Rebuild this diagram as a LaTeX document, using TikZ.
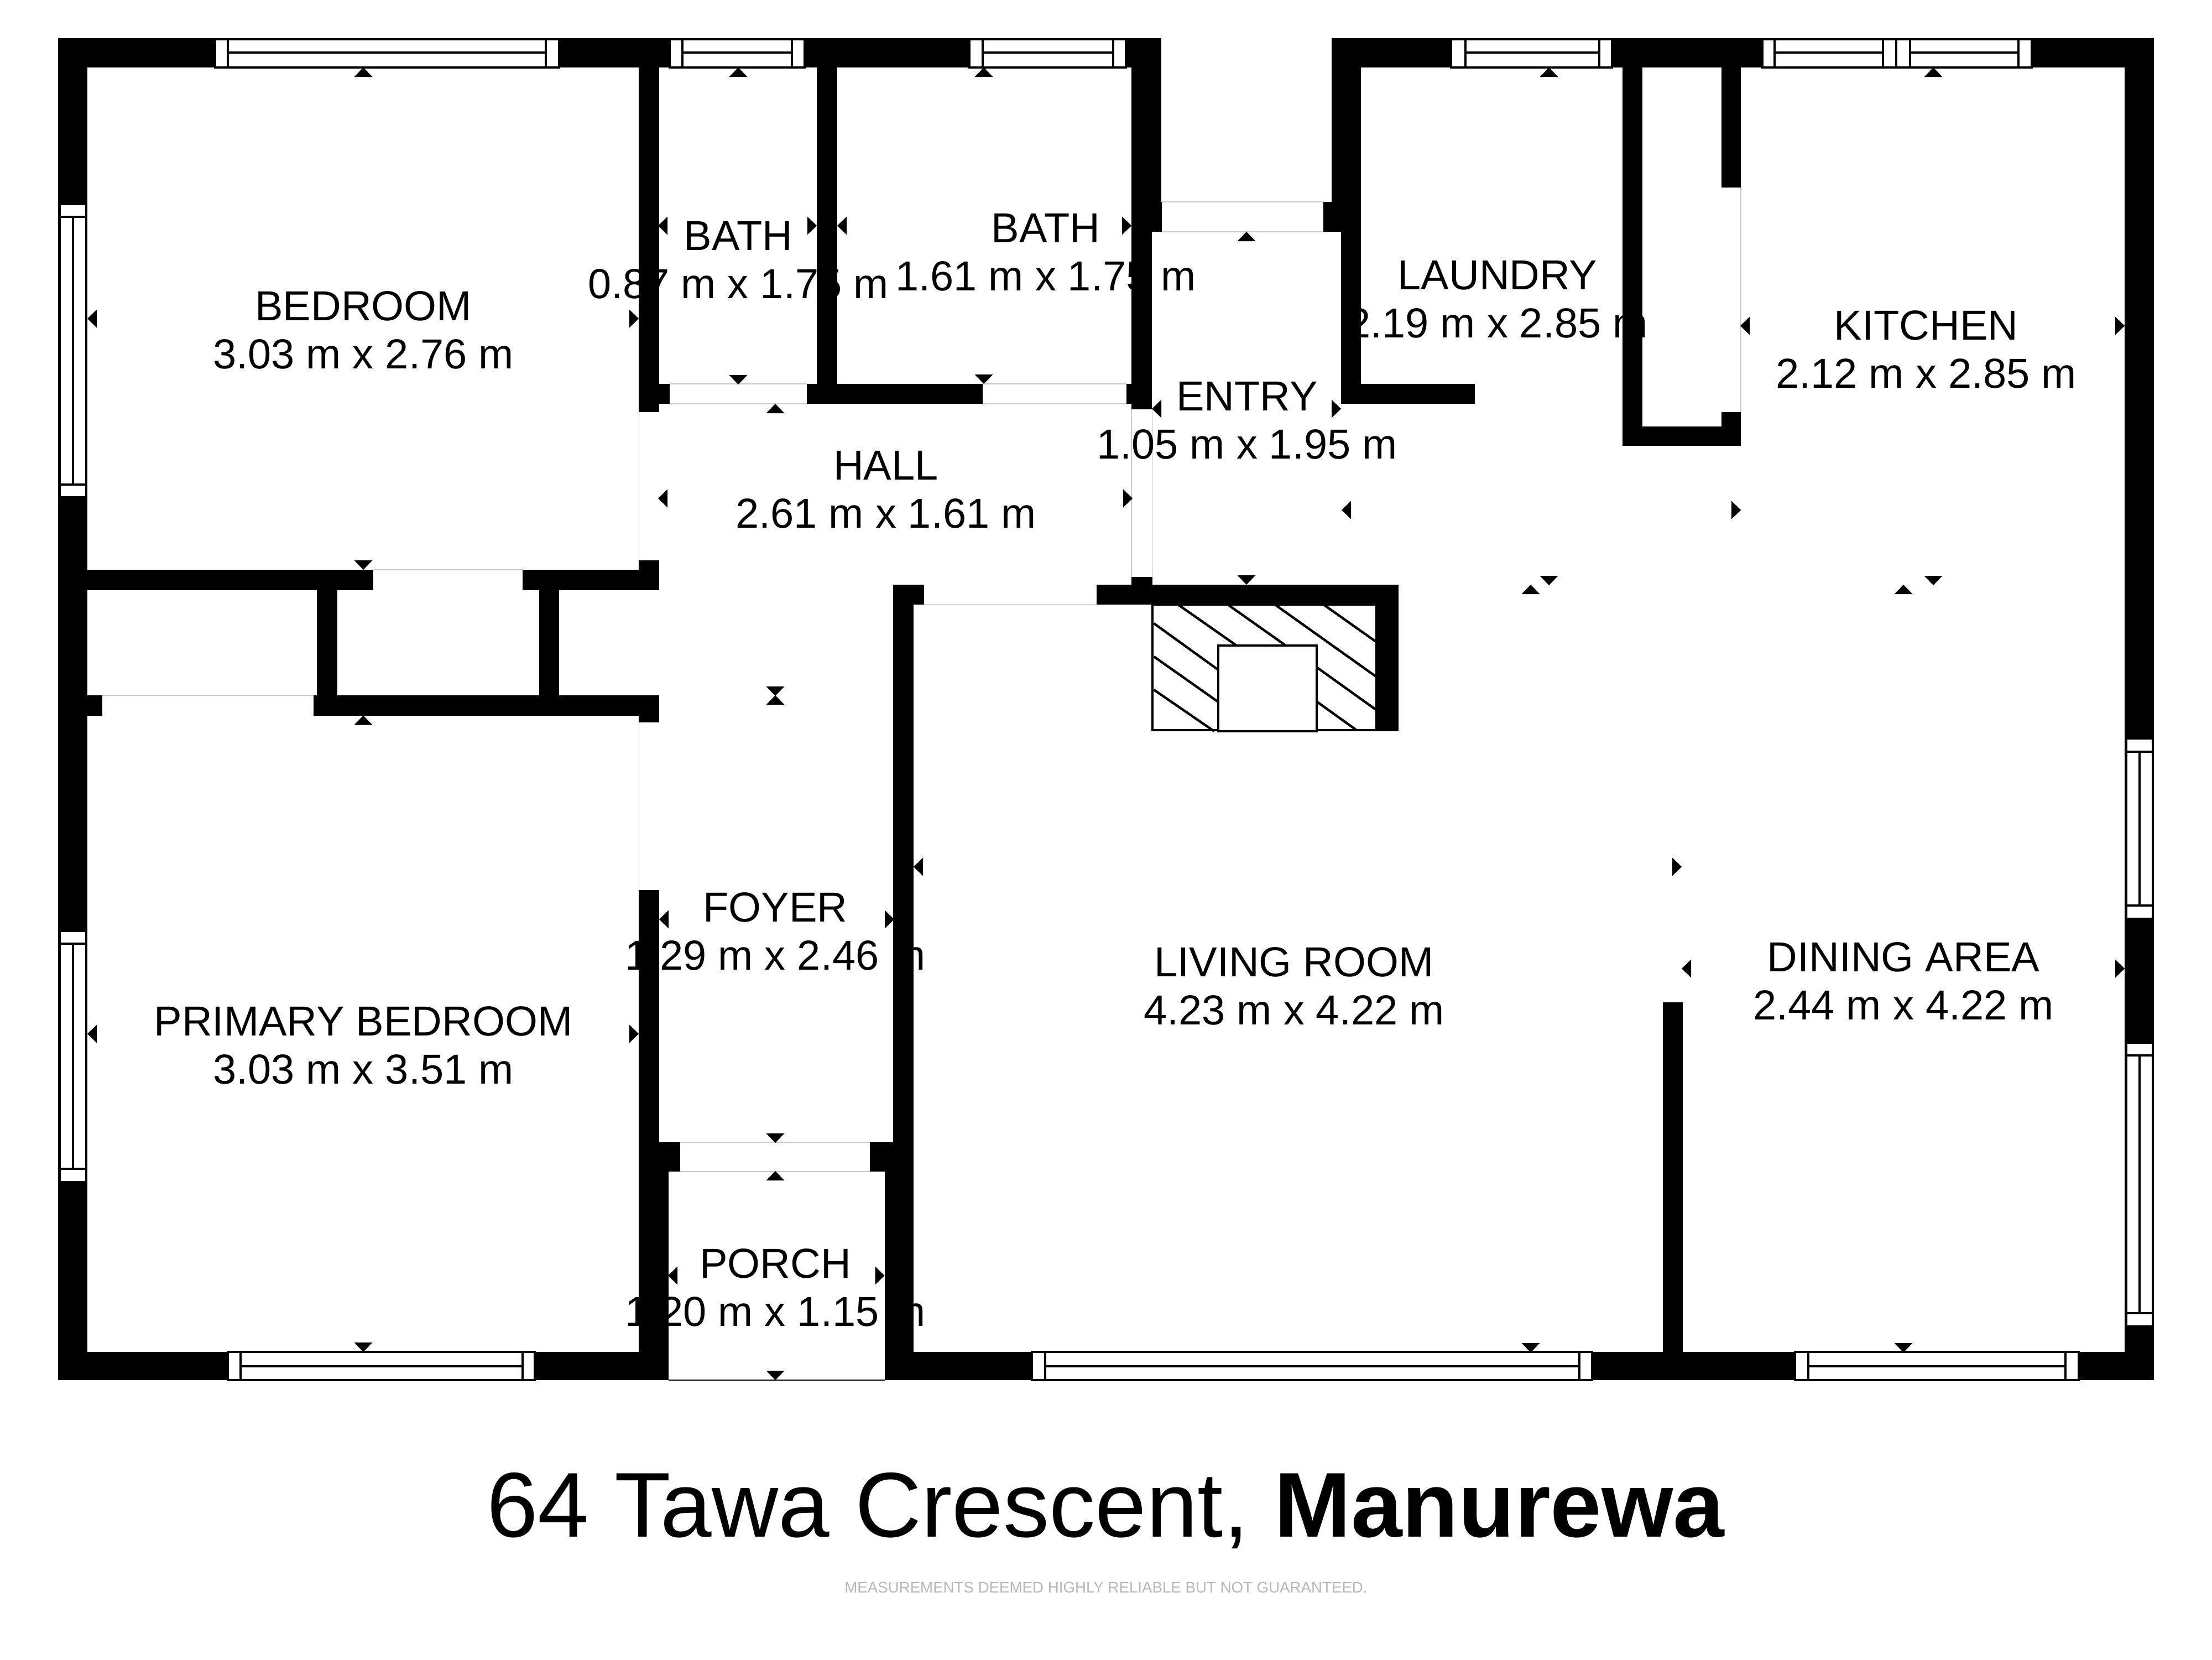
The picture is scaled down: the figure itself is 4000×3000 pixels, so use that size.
\documentclass[tikz,border=0pt]{standalone}
\usepackage{fontspec}
\setmainfont{Liberation Sans}
\usetikzlibrary{calc}
\definecolor{edge}{HTML}{C8C8C8}
\definecolor{edgelight}{HTML}{E2E2E2}
\tikzset{
  x=0.25pt,y=-0.25pt,
  wall/.style={fill=black,draw=none},
  gap/.style={draw=edge,line width=0.3pt},
  pane/.style={draw=black,fill=white,line width=1pt},
  sash/.style={draw=black,line width=1pt},
  hatchline/.style={draw=black,line width=1.1pt},
  room/.style={align=center,font=\fontsize{18.95}{21.75}\selectfont,inner sep=0pt,text=black},
  tip/.style={fill=black,draw=none}
}
\newcommand{\hwin}[7]{\fill[white] (#1,#5) rectangle (#2,#6);
  \draw[pane] (#1,#5) rectangle (#2,#6);
  \draw[sash] (#3,#5) -- (#3,#6) (#4,#5) -- (#4,#6) (#3,#7) -- (#4,#7);}
\newcommand{\vwin}[7]{\fill[white] (#5,#1) rectangle (#6,#2);
  \draw[pane] (#5,#1) rectangle (#6,#2);
  \draw[sash] (#5,#3) -- (#6,#3) (#5,#4) -- (#6,#4) (#7,#3) -- (#7,#4);}
\newcommand{\tu}[2]{\fill[tip] (#1,#2) -- ++(-16.5,17) -- ++(33,0) -- cycle;}
\newcommand{\td}[2]{\fill[tip] (#1,#2) -- ++(-16.5,-17) -- ++(33,0) -- cycle;}
\newcommand{\tl}[2]{\fill[tip] (#1,#2) -- ++(17,-16.5) -- ++(0,33) -- cycle;}
\newcommand{\tr}[2]{\fill[tip] (#1,#2) -- ++(-17,-16.5) -- ++(0,33) -- cycle;}
\begin{document}
\begin{tikzpicture}
\useasboundingbox (0,0) rectangle (4000,3000);
\fill[white] (0,0) rectangle (4000,3000);
% outer walls
\fill[wall] (105,69) rectangle (2100,122);
\fill[wall] (2408,69) rectangle (3895,122);
\fill[wall] (105,69) rectangle (158,2495);
\fill[wall] (3842,69) rectangle (3895,2495);
\fill[wall] (105,2444) rectangle (1209,2495);
\fill[wall] (1600,2444) rectangle (3895,2495);
% bedroom / bath walls
\fill[wall] (1155,69) rectangle (1192,745);
\fill[wall] (1155,694) rectangle (1211,730);
\fill[wall] (1477,69) rectangle (1514,730);
\fill[wall] (1459,694) rectangle (1777,730);
\fill[wall] (2037,694) rectangle (2083,730);
\fill[wall] (2046,69) rectangle (2083,740);
\fill[wall] (2046,69) rectangle (2100,365);
\fill[wall] (2046,365) rectangle (2101,419);
% entry / laundry
\fill[wall] (2408,69) rectangle (2461,365);
\fill[wall] (2393,365) rectangle (2461,419);
\fill[wall] (2425,419) rectangle (2461,730);
\fill[wall] (2425,694) rectangle (2667,730);
% cupboard
\fill[wall] (2934,69) rectangle (2970,806);
\fill[wall] (2934,771) rectangle (3148,806);
\fill[wall] (3112.5,69) rectangle (3148,339);
\fill[wall] (3112.5,745) rectangle (3148,806);
% bedroom closets
\fill[wall] (105,1030) rectangle (674.5,1067);
\fill[wall] (945,1030) rectangle (1192,1067);
\fill[wall] (1155,1013) rectangle (1192,1067);
\fill[wall] (573,1030) rectangle (610,1293.5);
\fill[wall] (975,1030) rectangle (1011,1293.5);
\fill[wall] (567,1257) rectangle (1192,1293.5);
\fill[wall] (1155,1257) rectangle (1192,1306);
\fill[wall] (105,1257) rectangle (185,1293.5);
% foyer / porch
\fill[wall] (1155,1609) rectangle (1192,2495);
\fill[wall] (1155,2065) rectangle (1230,2118);
\fill[wall] (1155,2118) rectangle (1209,2495);
\fill[wall] (1573,2065) rectangle (1652,2118);
\fill[wall] (1599.5,2118) rectangle (1652,2495);
\fill[wall] (1615,1057) rectangle (1652,2118);
\fill[wall] (1615,1057) rectangle (1671,1092.5);
% fireplace wall
\fill[wall] (1983,1057) rectangle (2529,1092.5);
\fill[wall] (2046,1043) rectangle (2084,1057);
\fill[wall] (2489.5,1057) rectangle (2529,1322);
% dining stub
\fill[wall] (3006.5,1812) rectangle (3043,2495);
% openings: thin edge lines
\draw[gap] (1211,694) -- (1459,694) (1211,730) -- (1459,730);
\draw[gap] (1777,694) -- (2037,694) (1777,730) -- (2037,730);
\draw[gap] (2101,365) -- (2393,365) (2101,419) -- (2393,419);
\draw[gap] (1155.5,745) -- (1155.5,1013);
\draw[gap] (1155.5,1306) -- (1155.5,1609);
\draw[gap] (674.5,1030) -- (945,1030);
\draw[gap] (185,1257) -- (567,1257);
\draw[gap] (1230,2065) -- (1573,2065) (1230,2118) -- (1573,2118);
\draw[gap] (1671,1092.5) -- (1983,1092.5);
\draw[gap] (2046,740) -- (2046,1043);
\draw[gap,draw=edgelight] (2084,740) -- (2084,1043);
\draw[gap] (3148,339) -- (3148,745);
% porch threshold
\draw[black,line width=0.6pt] (1209,2495) -- (1600,2495);
% windows
\hwin{388.5}{1011}{412}{987}{71}{122}{95}
\hwin{1211}{1455}{1234}{1432}{71}{122}{95}
\hwin{1753}{2036}{1777}{2013}{71}{122}{95}
\hwin{2624}{2915}{2650}{2892}{71}{122}{95}
\hwin{3186.5}{3429}{3209}{3405}{71}{122}{95}
\hwin{3429}{3674}{3454}{3650}{71}{122}{95}
\hwin{412}{967}{435}{945}{2444}{2495}{2470}
\hwin{1865.5}{2879}{1889.5}{2856}{2444}{2495}{2470}
\hwin{3246}{3759}{3270}{3735}{2444}{2495}{2470}
\vwin{369}{899}{392}{876}{108}{156}{132}
\vwin{1683}{2137}{1706}{2113}{108}{156}{132}
\vwin{1335}{1661}{1359}{1637}{3845}{3893}{3869}
\vwin{1885}{2398}{1908}{2374}{3845}{3893}{3869}
% fireplace
\draw[hatchline] (2084,1092.5) rectangle (2489.5,1320);
\draw[hatchline] (2129.6,1092.5) -- (2236,1167) (2219.6,1092.5) -- (2325,1167)
  (2304.8,1092.5) -- (2489.5,1224) (2392.8,1092.5) -- (2489.5,1161)
  (2086.6,1127) -- (2203,1211) (2086.6,1187) -- (2203,1269) (2086.6,1247) -- (2195.7,1322)
  (2382,1207) -- (2489.5,1284) (2382,1269) -- (2453,1320);
\draw[hatchline,fill=white] (2203,1167) rectangle (2381,1322);
% dimension tips
\tu{657}{122}\td{657}{1030}\tl{158}{576}\tr{1155}{576}
\tu{1335}{122}\td{1335}{695}\tl{1190}{408}\tr{1477}{408}
\tu{1779}{122}\td{1779}{694}\tl{1514}{408}\tr{2046}{408}
\tu{1402}{730}\td{1402}{1258}\tl{1190}{901}\tr{2048}{901}
\tu{2254}{419}\td{2254}{1057}\tl{2083}{739}\tr{2425}{739}
\tu{2801}{122}\td{2801}{1058}\tl{2426}{922}\tr{3148}{922}
\tu{3496}{122}\td{3496}{1058}\tl{3147}{589}\tr{3842}{589}
\tu{1402}{1257}\td{1402}{2066}\tl{1192}{1662}\tr{1617}{1662}
\tu{1402}{2117}\td{1402}{2495}\tl{1208}{2306}\tr{1599.5}{2306}
\tu{657}{1293.5}\td{657}{2444}\tl{158}{1869}\tr{1155}{1869}
\tu{2768}{1057}\td{2768}{2445}\tl{1652}{1567}\tr{3041}{1567}
\tu{3442}{1057}\td{3442}{2445}\tl{3041}{1751}\tr{3842}{1751}
% labels
\node[room] (bedroom) at (657,597) {BEDROOM\\3.03 m x 2.76 m};
\node[room] (bath1) at (1335,470.5) {BATH\\0.87 m x 1.75 m};
\node[room] (bath2) at (1891,456) {BATH\\1.61 m x 1.75 m};
\node[room] (laundry) at (2708,541.5) {LAUNDRY\\2.19 m x 2.85 m};
\node[room] (kitchen) at (3483,631.5) {KITCHEN\\2.12 m x 2.85 m};
\node[room] (entry) at (2255,760) {ENTRY\\1.05 m x 1.95 m};
\node[room] (hall) at (1602,885) {HALL\\2.61 m x 1.61 m};
\node[room] (foyer) at (1402,1683.5) {FOYER\\1.29 m x 2.46 m};
\node[room] (porch) at (1402,2327.5) {PORCH\\1.20 m x 1.15 m};
\node[room] (primary) at (657,1889.5) {PRIMARY BEDROOM\\3.03 m x 3.51 m};
\node[room] (living) at (2340,1782.5) {LIVING ROOM\\4.23 m x 4.22 m};
\node[room] (dining) at (3442,1773.5) {DINING AREA\\2.44 m x 4.22 m};
% title
\node[anchor=base,inner sep=0pt,font=\fontsize{41.6}{46}\selectfont] (title) at (2000,2778) {64 Tawa Crescent, \textbf{Manurewa}};
\node[anchor=center,inner sep=0pt,font=\fontsize{6.92}{8}\selectfont,text=black!28] (note) at (2000,2870) {MEASUREMENTS DEEMED HIGHLY RELIABLE BUT NOT GUARANTEED.};
\end{tikzpicture}
\end{document}
